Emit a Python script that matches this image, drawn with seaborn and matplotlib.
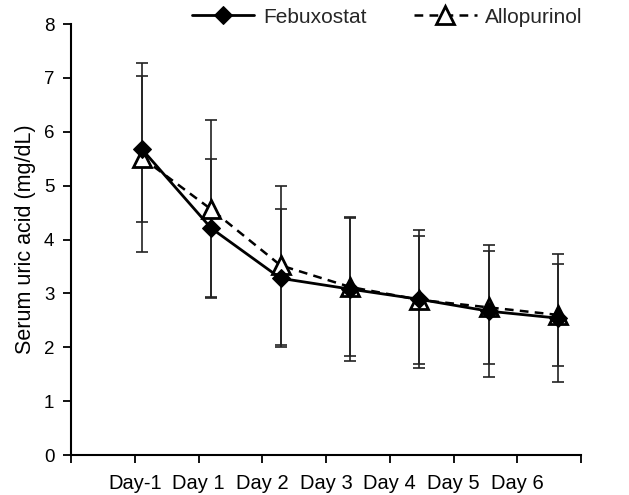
import matplotlib
matplotlib.use("Agg")
import matplotlib.pyplot as plt
import seaborn as sns
import numpy as np
import pandas as pd

days = ["Day-1", "Day 1", "Day 2", "Day 3", "Day 4", "Day 5", "Day 6"]
febuxostat = [5.68, 4.21, 3.28, 3.08, 2.89, 2.67, 2.54]
febuxostat_sd = [1.35, 1.28, 1.28, 1.33, 1.28, 1.23, 1.19]
allopurinol = [5.52, 4.56, 3.52, 3.12, 2.88, 2.74, 2.60]
allopurinol_sd = [1.75, 1.65, 1.47, 1.28, 1.19, 1.05, 0.95]

sns.set_theme(style="ticks")
plt.rcParams['font.family'] = ['Liberation Sans', 'DejaVu Sans']

fig = plt.figure(figsize=(6.29, 4.95), dpi=100)
ax = fig.add_axes([0.1129, 0.0808, 0.8108, 0.8707])

xpos = np.arange(len(days))
df = pd.DataFrame({"x": np.concatenate([xpos, xpos]),
                   "y": febuxostat + allopurinol,
                   "drug": ["Febuxostat"] * len(days) + ["Allopurinol"] * len(days)})

ax.errorbar(xpos, allopurinol, yerr=allopurinol_sd, fmt="none", ecolor="#222222",
            elinewidth=1.2, capsize=4.5, capthick=1.2, zorder=1)
ax.errorbar(xpos, febuxostat, yerr=febuxostat_sd, fmt="none", ecolor="#222222",
            elinewidth=1.2, capsize=4.5, capthick=1.2, zorder=1)

sns.lineplot(data=df[df.drug == "Allopurinol"], x="x", y="y", ax=ax, color="black",
             linewidth=1.8, linestyle=(0, (3.5, 2.5)), marker="^", markersize=13,
             markerfacecolor="white", markeredgecolor="black", markeredgewidth=2,
             label="Allopurinol", zorder=3)
sns.lineplot(data=df[df.drug == "Febuxostat"], x="x", y="y", ax=ax, color="black",
             linewidth=2, linestyle="-", marker="D", markersize=9.5,
             markerfacecolor="black", markeredgecolor="black",
             label="Febuxostat", zorder=4)

x0, x1 = -1.02, 6.33
ax.set_xlim(x0, x1)
ax.set_ylim(0, 8)
ticks = np.linspace(x0, x1, 9)
ax.set_xticks(ticks)
ax.set_xticklabels([""] + days + [""])
ax.set_yticks(range(0, 9))
ax.tick_params(axis="both", direction="out", length=6, width=1.3,
               color="black", labelcolor="black")
ax.tick_params(axis="x", labelsize=14.5, pad=8)
ax.tick_params(axis="y", labelsize=13.5, pad=6)
ax.set_xlabel("")
ax.set_ylabel("Serum uric acid (mg/dL)", fontsize=15.5, color="black", labelpad=6)
for s in ["top", "right"]:
    ax.spines[s].set_visible(False)
for s in ["left", "bottom"]:
    ax.spines[s].set_linewidth(1.5)
    ax.spines[s].set_color("black")

handles, labels = ax.get_legend_handles_labels()
order = [labels.index("Febuxostat"), labels.index("Allopurinol")]
ax.legend([handles[i] for i in order], [labels[i] for i in order],
          loc="center", bbox_to_anchor=(0.62, 1.016), ncol=2, frameon=False,
          fontsize=15, handlelength=3.0, handletextpad=0.4, columnspacing=2.3,
          borderpad=0, borderaxespad=0)

fig.savefig("out.png", dpi=100)
